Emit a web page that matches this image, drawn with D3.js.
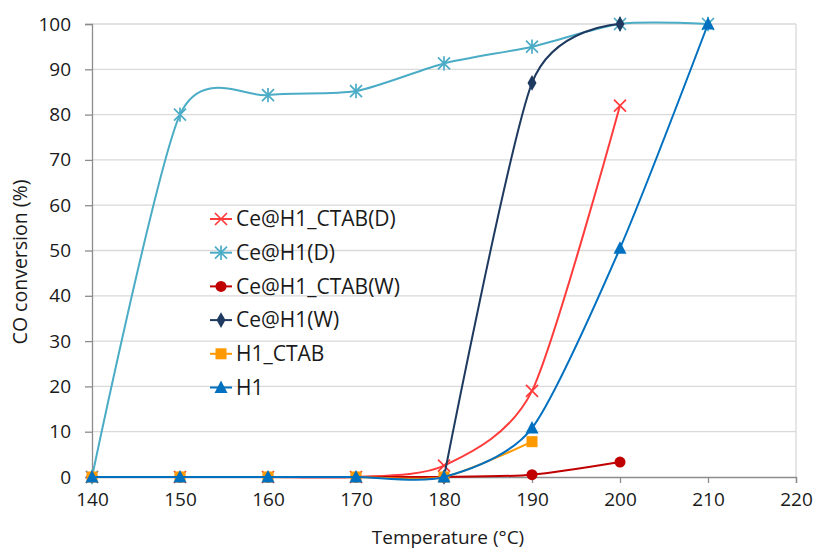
<!DOCTYPE html>
<html lang="en">
<head>
    <meta charset="UTF-8">
    <title>CO conversion</title>
    <script src="https://d3js.org/d3.v7.min.js"></script>
    <style>
        body { margin: 0; background: #fff; }
        text { font-family: "Open Sans", "Liberation Sans", sans-serif; fill: #1a1a1a; }
    </style>
</head>
<body>
    <div id="chart"></div>
    <script>
        // Temperature points (°C)
        var temps = [140, 150, 160, 170, 180, 190, 200, 210];

        var ceH1CtabD = [0, 0, 0, 0, 2.5, 19, 82];
        var ceH1D     = [0, 80, 84.3, 85.2, 91.3, 95, 100, 100];
        var ceH1CtabW = [0, 0, 0, 0, 0, 0.5, 3.3];
        var ceH1W     = [null, null, null, null, 0, 87, 100];
        var h1Ctab    = [0, 0, 0, 0, 0, 7.8];
        var h1        = [0, 0, 0, 0, 0, 10.8, 50.5, 100];

        var seriesNames = ["Ce@H1_CTAB(D)", "Ce@H1(D)", "Ce@H1_CTAB(W)", "Ce@H1(W)", "H1_CTAB", "H1"];
        var xTicks = [140, 150, 160, 170, 180, 190, 200, 210, 220];
        var yTicks = [0, 10, 20, 30, 40, 50, 60, 70, 80, 90, 100];

        var series = [
            {name: seriesNames[0], values: ceH1CtabD, color: "#ff3b3b", marker: "x"},
            {name: seriesNames[1], values: ceH1D, color: "#4bacc6", marker: "star"},
            {name: seriesNames[2], values: ceH1CtabW, color: "#c00000", marker: "circle"},
            {name: seriesNames[3], values: ceH1W, color: "#1f3a60", marker: "diamond"},
            {name: seriesNames[4], values: h1Ctab, color: "#ff9900", marker: "square"},
            {name: seriesNames[5], values: h1, color: "#0070c0", marker: "triangle"}
        ];

        var W = 816, H = 551;
        var margin = {top: 24, right: 20, bottom: 74, left: 92};
        var width = W - margin.left - margin.right;
        var height = H - margin.top - margin.bottom;

        var svg = d3.select("#chart").append("svg")
            .attr("width", W).attr("height", H);
        var g = svg.append("g")
            .attr("transform", "translate(" + margin.left + "," + margin.top + ")");

        var x = d3.scaleLinear().domain([140, 220]).range([0, width]);
        var y = d3.scaleLinear().domain([0, 100]).range([height, 0]);

        // gridlines
        g.append("g").selectAll("line").data(yTicks.slice(1)).enter().append("line")
            .attr("x1", 0).attr("x2", width)
            .attr("y1", function(d) { return y(d); }).attr("y2", function(d) { return y(d); })
            .attr("stroke", "#d9d9d9").attr("stroke-width", 1.3);
        // right border of plot area
        g.append("line").attr("x1", width).attr("x2", width).attr("y1", 0).attr("y2", height)
            .attr("stroke", "#d9d9d9").attr("stroke-width", 1.3);

        // axes
        var yAxis = g.append("g")
            .call(d3.axisLeft(y).tickValues(yTicks).tickSize(7).tickPadding(14));
        var xAxis = g.append("g")
            .attr("transform", "translate(0," + height + ")")
            .call(d3.axisBottom(x).tickValues(xTicks).tickSize(6).tickPadding(10));
        [xAxis, yAxis].forEach(function(a) {
            a.select(".domain").attr("stroke", "#8c8c8c").attr("stroke-width", 1.3);
            a.selectAll(".tick line").attr("stroke", "#8c8c8c").attr("stroke-width", 1.3);
            a.selectAll(".tick text").style("font-size", "19px").attr("fill", "#1a1a1a")
                .style("font-family", "'Open Sans', sans-serif");
        });

        // axis titles
        svg.append("text")
            .attr("transform", "translate(20,262) rotate(-90)")
            .attr("text-anchor", "middle").attr("dy", "0.35em")
            .style("font-size", "19.5px").text("CO conversion (%)");
        svg.append("text")
            .attr("x", margin.left + width / 2 + 4).attr("y", 537)
            .attr("text-anchor", "middle").attr("dy", "0.35em")
            .style("font-size", "19px").text("Temperature (°C)");

        // smoothed lines, close to the spreadsheet's "smoothed line" look
        var line = d3.line()
            .defined(function(d) { return d !== null; })
            .x(function(d, i) { return x(temps[i]); })
            .y(function(d) { return y(d); })
            .curve(d3.curveCardinal.tension(0.25));

        function drawMarker(sel, type, color) {
            var s = 6;
            if (type === "x") {
                sel.append("path").attr("d", "M" + -s + "," + -s + "L" + s + "," + s + "M" + -s + "," + s + "L" + s + "," + -s)
                    .attr("stroke", color).attr("stroke-width", 1.7).attr("fill", "none");
            } else if (type === "star") {
                sel.append("path").attr("d", "M" + -s + "," + -s + "L" + s + "," + s + "M" + -s + "," + s + "L" + s + "," + -s + "M0," + -s * 1.2 + "L0," + s * 1.2)
                    .attr("stroke", color).attr("stroke-width", 1.7).attr("fill", "none");
            } else if (type === "circle") {
                sel.append("circle").attr("r", 5.5).attr("fill", color);
            } else if (type === "diamond") {
                sel.append("path").attr("d", d3.symbol(d3.symbolDiamond, 70)).attr("fill", color);
            } else if (type === "square") {
                sel.append("rect").attr("x", -5.5).attr("y", -5.5).attr("width", 11).attr("height", 11).attr("fill", color);
            } else if (type === "triangle") {
                sel.append("path").attr("d", "M0,-7L6.5,5.5L-6.5,5.5Z").attr("fill", color);
            }
        }

        series.forEach(function(s) {
            g.append("path").datum(s.values)
                .attr("d", line)
                .attr("fill", "none").attr("stroke", s.color).attr("stroke-width", 2);
            var pts = s.values.map(function(v, i) { return {t: temps[i], v: v}; })
                .filter(function(p) { return p.v !== null; });
            g.selectAll(null).data(pts).enter().append("g")
                .attr("transform", function(d) { return "translate(" + x(d.t) + "," + y(d.v) + ")"; })
                .each(function() { drawMarker(d3.select(this), s.marker, s.color); });
        });

        // legend
        var legend = svg.append("g").attr("transform", "translate(210,219)");
        series.forEach(function(s, i) {
            var row = legend.append("g").attr("transform", "translate(0," + i * 33.7 + ")");
            row.append("line").attr("x1", 0).attr("x2", 22).attr("y1", 0).attr("y2", 0)
                .attr("stroke", s.color).attr("stroke-width", 2);
            drawMarker(row.append("g").attr("transform", "translate(11,0)"), s.marker, s.color);
            row.append("text").attr("x", 26).attr("dy", "0.35em")
                .style("font-size", "21px").text(s.name);
        });
    </script>
</body>
</html>
